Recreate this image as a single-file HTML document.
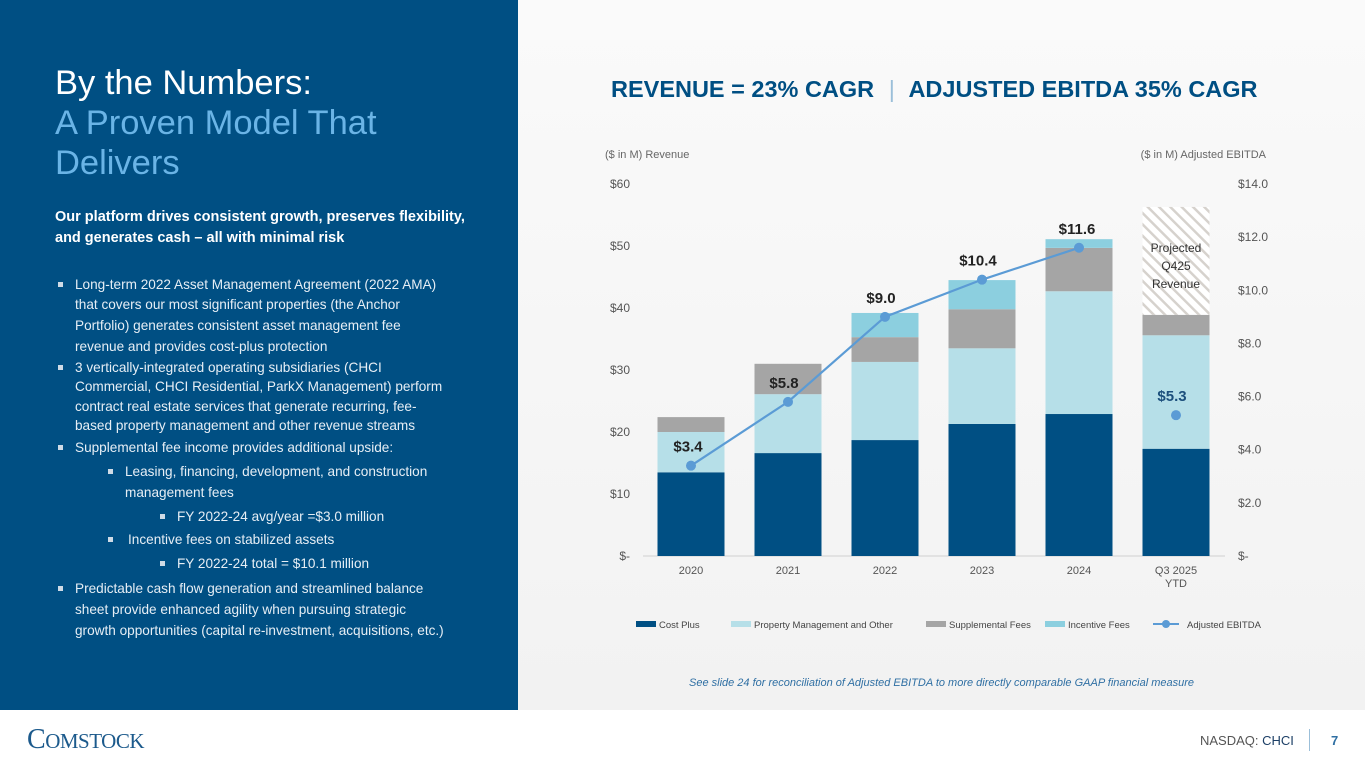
<!DOCTYPE html>
<html><head><meta charset="utf-8"><style>
body{margin:0;width:1365px;height:768px;position:relative;overflow:hidden;font-family:"Liberation Sans",sans-serif;background:#fff}
#left{position:absolute;left:0;top:0;width:518px;height:710px;background:#004f83}
#right{position:absolute;left:518px;top:0;width:847px;height:710px;background:linear-gradient(#fafafa,#f2f2f2)}
.t{position:absolute;white-space:nowrap}
.l{position:absolute;white-space:nowrap;color:#e6eef5;font-size:13.6px;line-height:20px}
.sq{position:absolute;width:5px;height:5px;background:#cfdbe6}
</style></head><body>
<div id="left">
<div class="t" style="left:55px;top:64px;font-size:34.5px;color:#fff">By the Numbers:</div>
<div class="t" style="left:55px;top:104px;font-size:34.5px;color:#6ab4e6">A Proven Model That</div>
<div class="t" style="left:55px;top:144px;font-size:34.5px;color:#6ab4e6">Delivers</div>
<div class="t" style="left:55px;top:207px;font-size:14.5px;line-height:21px;color:#fff;font-weight:bold">Our platform drives consistent growth, preserves flexibility,<br>and generates cash – all with minimal risk</div>
<div class="sq" style="left:58px;top:282px"></div>
<div class="l" style="left:75px;top:275px">Long-term 2022 Asset Management Agreement (2022 AMA)</div>
<div class="l" style="left:75px;top:295px">that covers our most significant properties (the Anchor</div>
<div class="l" style="left:75px;top:316px">Portfolio) generates consistent asset management fee</div>
<div class="l" style="left:75px;top:337px">revenue and provides cost-plus protection</div>
<div class="sq" style="left:58px;top:365px"></div>
<div class="l" style="left:75px;top:358px">3 vertically-integrated operating subsidiaries (CHCI</div>
<div class="l" style="left:75px;top:377px">Commercial, CHCI Residential, ParkX Management) perform</div>
<div class="l" style="left:75px;top:397px">contract real estate services that generate recurring, fee-</div>
<div class="l" style="left:75px;top:416px">based property management and other revenue streams</div>
<div class="sq" style="left:58px;top:445px"></div>
<div class="l" style="left:75px;top:438px">Supplemental fee income provides additional upside:</div>
<div class="sq" style="left:108px;top:469px"></div>
<div class="l" style="left:125px;top:462px">Leasing, financing, development, and construction</div>
<div class="l" style="left:125px;top:483px">management fees</div>
<div class="sq" style="left:160px;top:514px"></div>
<div class="l" style="left:177px;top:507px">FY 2022-24 avg/year =$3.0 million</div>
<div class="sq" style="left:108px;top:537px"></div>
<div class="l" style="left:128px;top:530px">Incentive fees on stabilized assets</div>
<div class="sq" style="left:160px;top:561px"></div>
<div class="l" style="left:177px;top:554px">FY 2022-24 total = $10.1 million</div>
<div class="sq" style="left:58px;top:586px"></div>
<div class="l" style="left:75px;top:579px">Predictable cash flow generation and streamlined balance</div>
<div class="l" style="left:75px;top:600px">sheet provide enhanced agility when pursuing strategic</div>
<div class="l" style="left:75px;top:621px">growth opportunities (capital re-investment, acquisitions, etc.)</div>
</div>
<div id="right"></div>
<div class="t" style="left:611px;top:76px;font-size:23.5px;font-weight:bold;color:#004f83">REVENUE = 23% CAGR <span style="color:#9bbfd9;font-weight:normal;margin:0 8px">|</span> ADJUSTED EBITDA 35% CAGR</div>
<svg id="chart" width="1365" height="710" style="position:absolute;left:0;top:0">
<defs><pattern id="hatch" width="8" height="8" patternUnits="userSpaceOnUse" patternTransform="rotate(-45)"><rect width="8" height="8" fill="#fff"/><rect width="2.5" height="8" fill="#d6d2cd"/></pattern></defs>
</svg>
<div class="t" style="left:689px;top:677px;font-size:11px;font-style:italic;color:#2f6fa3">See slide 24 for reconciliation of Adjusted EBITDA to more directly comparable GAAP financial measure</div>
<div class="t" style="left:27px;top:724px;font-family:'Liberation Serif',serif;font-size:28px;color:#1c5a8c;letter-spacing:-0.5px">C<span style="font-size:21px">OMSTOCK</span></div>
<div class="t" style="left:1200px;top:733px;font-size:13px;color:#555">NASDAQ: <span style="color:#1c3f66">CHCI</span></div>
<div style="position:absolute;left:1309px;top:729px;width:1px;height:22px;background:#9bbfd9"></div>
<div class="t" style="left:1331px;top:733px;font-size:13px;font-weight:bold;color:#2f6fa3">7</div>
<script>
const categories=["2020","2021","2022","2023","2024","Q3 2025"];
const costPlus=[13.5,16.6,18.7,21.3,22.9,17.3];
const propMgmt=[6.5,9.5,12.6,12.2,19.8,18.3];
const suppFees=[2.4,4.9,4.0,6.3,7.0,3.3];
const incentive=[0,0,3.9,4.7,1.4,0];
const projected=[0,0,0,0,0,17.4];
const ebitda=[3.4,5.8,9.0,10.4,11.6,5.3];
const ebitdaLabels=["$3.4","$5.8","$9.0","$10.4","$11.6","$5.3"];
const leftTicks=["$-","$10","$20","$30","$40","$50","$60"];
const rightTicks=["$-","$2.0","$4.0","$6.0","$8.0","$10.0","$12.0","$14.0"];
const NS="http://www.w3.org/2000/svg",svg=document.getElementById('chart');
const y0=556,y1=184;
const yL=v=>y0-(v/60)*(y0-y1), yR=v=>y0-(v/14)*(y0-y1);
const xC=i=>691+i*97, bw=67;
function mk(t,a,p){const e=document.createElementNS(NS,t);for(const k in a)e.setAttribute(k,a[k]);(p||svg).appendChild(e);return e;}
function txt(x,y,s,a){const e=mk('text',Object.assign({x:x,y:y,'font-family':'Liberation Sans, sans-serif'},a));e.textContent=s;return e;}
leftTicks.forEach((s,i)=>{const e=txt(630,yL(i*10)+4,s,{'font-size':12,fill:'#555','text-anchor':'end'});

});
rightTicks.forEach((s,i)=>{const e=txt(1238,yR(i*2)+4,s,{'font-size':12,fill:'#555'});

});
txt(605,158,"($ in M) Revenue",{'font-size':11,fill:'#666'});
txt(1266,158,"($ in M) Adjusted EBITDA",{'font-size':11,fill:'#666','text-anchor':'end'});
const ax=mk('line',{x1:643,x2:1225,y1:y0,y2:y0,stroke:'#d0d0d0'});


const series=[[costPlus,'#004f83','cost-plus'],[propMgmt,'#b6dfe8','property-management'],[suppFees,'#a5a5a5','supplemental-fees'],[incentive,'#8ccfdf','incentive-fees'],[projected,'url(#hatch)','projected-revenue']];
categories.forEach((c,i)=>{let acc=0;
series.forEach(([arr,col,nm])=>{const v=arr[i];if(v>0){const r=mk('rect',{x:xC(i)-bw/2,y:yL(acc+v),width:bw,height:yL(acc)-yL(acc+v),fill:col});

}acc+=v;});
const lbl=c==="Q3 2025"?["Q3 2025","YTD"]:[c];
lbl.forEach((s,k)=>{const e=txt(xC(i),y0+18+k*13,s,{'font-size':11,fill:'#555','text-anchor':'middle'});

});});
const pi=5;
["Projected","Q425","Revenue"].forEach((s,k)=>txt(xC(pi),yL(costPlus[pi]+propMgmt[pi]+suppFees[pi]+projected[pi])+45+k*18,s,{'font-size':12,fill:'#333','text-anchor':'middle'}));
const pts=ebitda.slice(0,5).map((v,i)=>xC(i)+','+yR(v)).join(' ');
const pl=mk('polyline',{points:pts,fill:'none',stroke:'#5b9bd5','stroke-width':2.2});


ebitda.forEach((v,i)=>{const d=mk('circle',{cx:xC(i),cy:yR(v),r:5,fill:'#5b9bd5'});


const dx=i===0?-3:i===5?-4:(i===4?-2:-4);
const e=txt(xC(i)+dx,yR(v)-14,ebitdaLabels[i],{'font-size':15,'font-weight':'bold',fill:i===5?'#1c4f7c':'#222','text-anchor':'middle'});

});
const leg=[['#004f83','Cost Plus',636],['#b6dfe8','Property Management and Other',731],['#a5a5a5','Supplemental Fees',926],['#8ccfdf','Incentive Fees',1045]];
leg.forEach(([c,s,x])=>{const r=mk('rect',{x:x,y:621,width:20,height:6,fill:c});


txt(x+23,628,s,{'font-size':9.5,fill:'#444'});});
mk('line',{x1:1153,x2:1179,y1:624,y2:624,stroke:'#5b9bd5','stroke-width':2});
mk('circle',{cx:1166,cy:624,r:4,fill:'#5b9bd5'});
txt(1187,628,'Adjusted EBITDA',{'font-size':9.5,fill:'#444'});
</script>
</body></html>
